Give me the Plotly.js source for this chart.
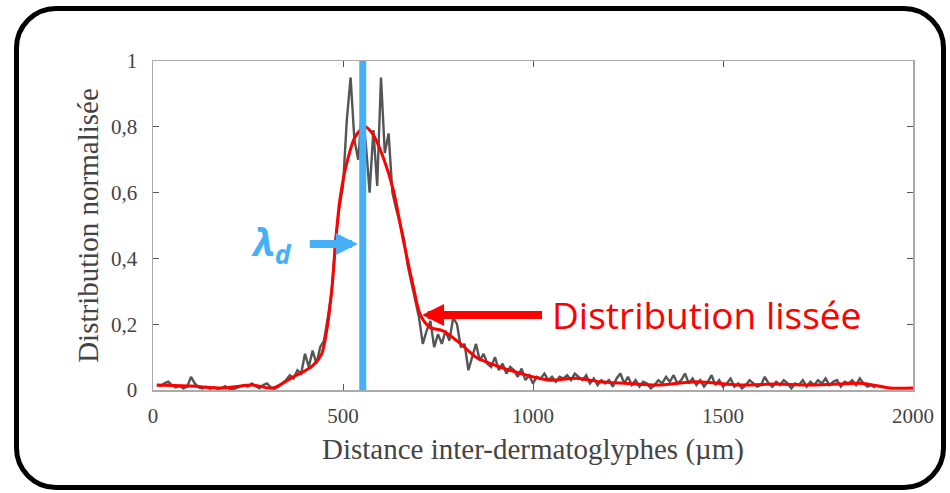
<!DOCTYPE html>
<html>
<head>
<meta charset="utf-8">
<script src="https://cdn.plot.ly/plotly-3.0.1.min.js"></script>
<style>
  html, body { margin: 0; padding: 0; background: #ffffff; }
  #wrap { position: relative; width: 950px; height: 493px; }
  #chart { position: absolute; left: 0; top: 0; width: 950px; height: 493px; }
  #frame { position: absolute; left: 14px; top: 6px; width: 932px; height: 484px;
           box-sizing: border-box; border: 5px solid #000; border-radius: 42px; pointer-events: none; }
</style>
</head>
<body>
<div id="wrap">
  <div id="chart"></div>
  <div id="frame"></div>
</div>
<script>
// Raw (noisy) distribution, sampled every 10 µm starting at 10 µm
const rawStart = 10;
const rawStep = 10;
const rawY = [
  0.015, 0.012, 0.02, 0.025, 0.015, 0.008, 0.012, 0.005, 0.01, 0.04,
  0.02, 0.008, 0.005, 0.01, 0.004, 0.008, 0.003, 0.006, 0.012, 0.004,
  0.002, 0.006, 0.012, 0.015, 0.01, 0.02, 0.012, 0.005, 0.015, 0.02,
  0.008, 0.004, 0.01, 0.02, 0.03, 0.045, 0.035, 0.06, 0.05, 0.11,
  0.07, 0.12, 0.08, 0.13, 0.15, 0.22, 0.30, 0.45, 0.55, 0.62,
  0.82, 0.95, 0.76, 0.70, 0.85, 0.75, 0.60, 0.79, 0.62, 0.95,
  0.72, 0.78, 0.60, 0.55, 0.50, 0.46, 0.38, 0.33, 0.28, 0.22,
  0.14, 0.18, 0.21, 0.13, 0.17, 0.14, 0.18, 0.15, 0.22, 0.20,
  0.13, 0.14, 0.06, 0.10, 0.14, 0.09, 0.11, 0.08, 0.07, 0.10,
  0.06, 0.08, 0.05, 0.07, 0.06, 0.04, 0.065, 0.03, 0.045, 0.02,
  0.04, 0.035, 0.05, 0.03, 0.04, 0.025, 0.04, 0.035, 0.045, 0.03,
  0.05, 0.04, 0.03, 0.045, 0.02, 0.035, 0.015, 0.03, 0.02, 0.03,
  0.01, 0.035, 0.05, 0.02, 0.04, 0.015, 0.03, 0.01, 0.025, 0.02,
  0.005, 0.015, 0.03, 0.02, 0.04, 0.025, 0.045, 0.02, 0.03, 0.05,
  0.02, 0.035, 0.015, 0.03, 0.01, 0.025, 0.045, 0.015, 0.03, 0.01,
  0.02, 0.035, 0.01, 0.02, 0.005, 0.015, 0.03, 0.02, 0.01, 0.015,
  0.04, 0.02, 0.01, 0.025, 0.015, 0.03, 0.02, 0.005, 0.02, 0.015,
  0.03, 0.01, 0.025, 0.015, 0.03, 0.02, 0.035, 0.015, 0.025, 0.03,
  0.01, 0.025, 0.02, 0.03, 0.015, 0.035, 0.02, 0.01, 0.015, 0.008
];

// Smoothed distribution
const smoothX = [10, 100, 184, 263, 316, 369, 395, 421, 444, 457, 471, 482, 492, 510, 532, 558, 580, 605, 632, 658, 684, 703, 729, 763, 805, 834, 852, 913, 1000, 1045, 1115, 1176, 1250, 1326, 1431, 1545, 1640, 1721, 1800, 1869, 1939, 2000];
const smoothY = [0.015, 0.012, 0.006, 0.015, 0.006, 0.04, 0.055, 0.075, 0.11, 0.18, 0.31, 0.47, 0.58, 0.69, 0.77, 0.80, 0.775, 0.71, 0.61, 0.46, 0.32, 0.23, 0.19, 0.18, 0.145, 0.115, 0.098, 0.07, 0.04, 0.03, 0.036, 0.025, 0.02, 0.015, 0.025, 0.015, 0.018, 0.015, 0.018, 0.02, 0.006, 0.006];

// λd marker
const lambdaX = [552, 552];
const lambdaY = [0, 1];

const xTicks = [0, 500, 1000, 1500, 2000];
const yTicks = [0, 0.2, 0.4, 0.6, 0.8, 1];

const serif = '"Liberation Serif", "Times New Roman", serif';
const sans = '"Open Sans", "Noto Sans", sans-serif';
const blue = '#45b0f5';

const traces = [
  { type: 'scatter', mode: 'lines', x0: rawStart, dx: rawStep, y: rawY,
    line: { color: '#555555', width: 2.4 }, hoverinfo: 'skip' },
  { type: 'scatter', mode: 'lines', x: smoothX, y: smoothY,
    line: { color: '#ff0000', width: 3, shape: 'spline', smoothing: 0.8 } },
  { type: 'scatter', mode: 'lines', x: lambdaX, y: lambdaY, cliponaxis: false,
    line: { color: blue, width: 7 } }
];

const layout = {
  width: 950, height: 493,
  margin: { l: 153, r: 37, t: 61, b: 103 },
  paper_bgcolor: '#ffffff', plot_bgcolor: '#ffffff',
  showlegend: false,
  separators: ', ',
  xaxis: {
    range: [0, 2000], tickvals: xTicks, ticks: 'inside', ticklen: 6, tickwidth: 1,
    tickcolor: '#555', showline: true, linecolor: '#aaaaaa', linewidth: 1.5, mirror: 'ticks',
    showgrid: false, zeroline: false, ticklabelstandoff: 6,
    tickfont: { family: serif, size: 21, color: '#444' },
    title: { text: 'Distance inter-dermatoglyphes (µm)', font: { family: serif, size: 29, color: '#444' }, standoff: 12 }
  },
  yaxis: {
    range: [0, 1], tickvals: yTicks, ticks: 'inside', ticklen: 6, tickwidth: 1,
    tickcolor: '#555', showline: true, linecolor: '#aaaaaa', linewidth: 1.5, mirror: 'ticks',
    showgrid: false, zeroline: false, ticklabelstandoff: 10,
    tickfont: { family: serif, size: 21, color: '#444' },
    title: { text: 'Distribution normalisée', font: { family: serif, size: 29, color: '#444' }, standoff: 4 }
  },
  annotations: [
    { x: 539, y: 0.444, xref: 'x', yref: 'y', ax: -86, ay: 0,
      text: '<b><i>λ</i></b><sub><b><i>d</i></b></sub>',
      font: { family: sans, size: 38, color: blue },
      showarrow: true, arrowhead: 2, arrowsize: 0.55, arrowwidth: 8, arrowcolor: blue, startstandoff: 16 },
    { x: 708, y: 0.228, xref: 'x', yref: 'y', ax: 284, ay: 0,
      text: 'Distribution lissée',
      font: { family: sans, size: 37, color: '#ff0000' },
      showarrow: true, arrowhead: 2, arrowsize: 0.55, arrowwidth: 8, arrowcolor: '#ff0000', startstandoff: 8 }
  ]
};

Plotly.newPlot('chart', traces, layout, { displayModeBar: false, staticPlot: true });
</script>
</body>
</html>
